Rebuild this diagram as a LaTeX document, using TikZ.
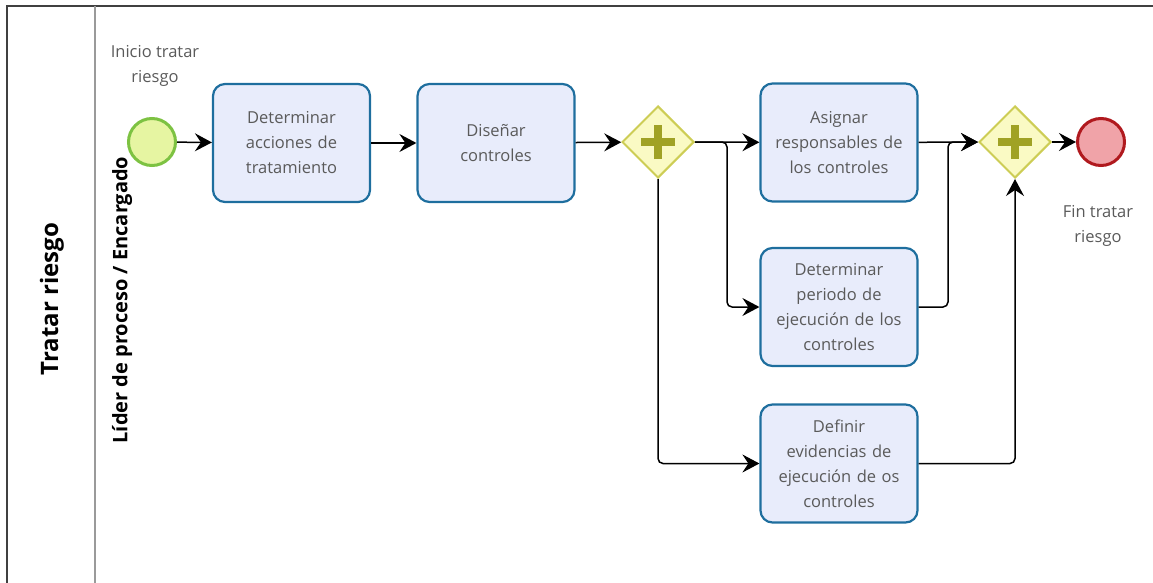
\documentclass[tikz,border=0pt]{standalone}
\usepackage{fontspec}
\setmainfont{Open Sans}
\usetikzlibrary{shapes.geometric,arrows.meta,calc}
\definecolor{taskline}{HTML}{1E6E9E}
\definecolor{taskfill}{HTML}{E8ECFB}
\definecolor{txt}{HTML}{5A5A5A}
\definecolor{gwline}{HTML}{CDCD55}
\definecolor{gwfill}{HTML}{FAFAC4}
\definecolor{gwplus}{HTML}{A0A225}
\definecolor{startline}{HTML}{7DC242}
\definecolor{startfill}{HTML}{E6F5A2}
\definecolor{endline}{HTML}{B0191E}
\definecolor{endfill}{HTML}{F0A3A8}
\definecolor{laneline}{HTML}{9A9A9A}
\tikzset{
  x=1pt, y=1pt,
  taskbox/.style={draw=taskline, fill=taskfill, line width=2.2pt, rounded corners=12pt,
    minimum width=157pt, minimum height=118pt, align=center, text=txt,
    font=\fontsize{16.5}{25}\selectfont, inner sep=4pt, text width=145pt},
  gateway/.style={diamond, draw=gwline, fill=gwfill, line width=2pt, minimum size=72pt, inner sep=0pt},
  plusbar/.style={gwplus, line width=8pt},
  startev/.style={circle, draw=startline, fill=startfill, line width=3pt, minimum size=47pt, inner sep=0pt},
  endev/.style={circle, draw=endline, fill=endfill, line width=3pt, minimum size=47pt, inner sep=0pt},
  evlabel/.style={text=txt, align=center, font=\fontsize{16.5}{25}\selectfont},
  flow/.style={draw=black, line width=1.5pt, -{Stealth[length=17pt, width=18pt, inset=6pt]}},
}
\begin{document}
\begin{tikzpicture}
\useasboundingbox (0,0) rectangle (1153,-583);
% pool and lane frame
\draw[line width=2pt, black!75] (7,-583) -- (7,-6) -- (1153,-6);
\draw[line width=2pt, laneline] (95,-6) -- (95,-583);
\node[rotate=90, font=\bfseries\fontsize{24}{28}\selectfont, text=black] (pool) at (52,-299) {Tratar riesgo};
\node[rotate=90, font=\bfseries\fontsize{20}{24}\selectfont, text=black] (lane) at (122,-300) {Líder de proceso / Encargado};

% events
\node[startev] (start) at (152,-142) {};
\node[evlabel] (startlbl) at (155,-66) {Inicio tratar\\riesgo};
\node[endev] (end) at (1101,-142) {};
\node[evlabel] (endlbl) at (1098,-226) {Fin tratar\\riesgo};

% tasks
\node[taskbox] (t1) at (291.5,-143) {Determinar\\acciones de\\tratamiento};
\node[taskbox] (t2) at (496,-143) {Diseñar\\controles};
\node[taskbox] (t3) at (839,-142.5) {Asignar\\responsables de\\los controles};
\node[taskbox] (t4) at (839,-307) {Determinar\\periodo de\\ejecución de los\\controles};
\node[taskbox] (t5) at (839,-463.5) {Definir\\evidencias de\\ejecución de os\\controles};

% parallel gateways
\node[gateway] (gw1) at (658,-142) {};
\node[gateway] (gw2) at (1015,-142) {};
\foreach \g in {gw1,gw2}{
  \draw[plusbar] ([xshift=-17pt]\g.center) -- ([xshift=17pt]\g.center);
  \draw[plusbar] ([yshift=-17pt]\g.center) -- ([yshift=17pt]\g.center);
}

% branch points
\coordinate (split) at (727,-142);
\coordinate (merge) at (948,-142);

% sequence flows
\draw[flow] (start) -- (t1);
\draw[flow] (t1) -- (t2);
\draw[flow] (t2) -- (gw1);
\draw[flow] (gw1) -- (t3);
\draw[flow, rounded corners=5pt] (gw1.east) -- (split) |- (t4.west);
\draw[flow, rounded corners=5pt] (gw1.south) |- (t5.west);
\draw[flow] (t3) -- (gw2);
\draw[flow, rounded corners=5pt] (t4.east) -| (merge) -- (gw2.west);
\draw[flow, rounded corners=5pt] (t5.east) -| (gw2.south);
\draw[flow] (gw2) -- (end);
\end{tikzpicture}
\end{document}
